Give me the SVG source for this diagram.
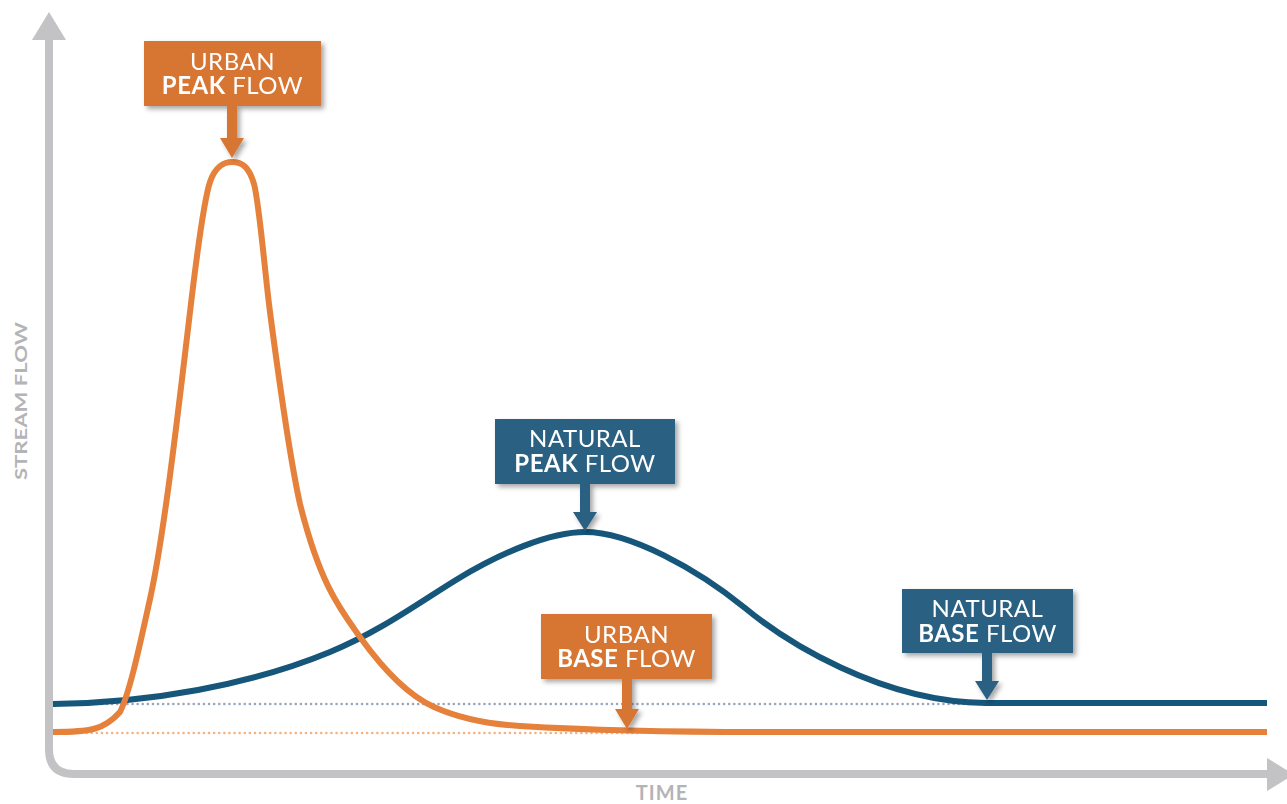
<svg xmlns="http://www.w3.org/2000/svg" width="1287" height="804" viewBox="0 0 1287 804">
  <defs>
    <filter id="sh" x="-20%" y="-20%" width="140%" height="150%">
      <feDropShadow dx="3" dy="3" stdDeviation="2.5" flood-color="#000" flood-opacity="0.35"/>
    </filter>
  </defs>
  <style>
    .axis { fill: none; stroke: #c3c3c5; stroke-width: 8; }
    .axhead { fill: #c3c3c5; }
    .axlabel { font-family: Lato, "Liberation Sans", sans-serif; font-weight: 700; fill: #b4b4b7; }
    .curve { fill: none; stroke-width: 6; stroke-linecap: butt; stroke-linejoin: round; }
    .urban { stroke: #e5813a; }
    .natural { stroke: #16567a; }
    .dot { fill: none; stroke-width: 2.5; stroke-linecap: round; stroke-dasharray: 0.1 5; }
    .box-o { fill: #d77633; }
    .box-b { fill: #2c6182; }
    .lbl { font-family: Lato, "Liberation Sans", sans-serif; font-size: 24px; fill: #ffffff; text-anchor: middle; letter-spacing: 0.5px; }
    .b { font-weight: 700; }
  </style>

  <g id="axes">
    <path class="axis" d="M49,38 V749 Q49,774 74,774 H1269"/>
    <polygon class="axhead" points="32,40 66,40 49,12"/>
    <polygon class="axhead" points="1267,758 1267,791 1294,774.5"/>
    <text class="axlabel" font-size="17" text-anchor="middle" textLength="158" lengthAdjust="spacingAndGlyphs" transform="translate(27,401) rotate(-90)">STREAM FLOW</text>
    <text class="axlabel" font-size="20" x="662" y="800" text-anchor="middle" letter-spacing="1">TIME</text>
  </g>

  <g id="baselines">
    <path class="dot" stroke="#9aa4be" d="M56,704 H1000"/>
    <path class="dot" stroke="#f5b17f" d="M56,733 H640"/>
  </g>

  <g id="connectors">
    <path id="natural-curve" class="curve natural" d="M53,704 C150,703 250,685 330,652 C380,631.5 420,602 456,580 C500,553 550,532 585,532 C630,532 697,569 745,608 C785,641 880,702 986,703 L1267,703"/>
    <path id="urban-curve" class="curve urban" d="M53,732 C90,732 104,730 120,712 C130,692 140,644 150,599 C163.3,539 176.7,425 190,312 C196.7,255.3 203.3,202 210,182 C215,167 224,162 232,162 C242,162 249,166.5 254,184 C259.3,202.7 264.7,271.5 270,312 C280,388 290,459 300,504 C320,584 340,609 360,637 C384.67,671.5 409.33,695.9 434,707 C462.67,719.9 491.33,724.3 520,726 C600,730.8 680,732 760,732 L1267,732"/>
  </g>

  <g id="urban-peak" filter="url(#sh)">
    <rect class="box-o" x="144" y="41" width="177" height="65"/>
    <path class="box-o" d="M227,105 H237 V138 H244 L232,158 L220,138 H227 Z"/>
    <text class="lbl" x="232.5" y="70">URBAN<tspan x="232.5" dy="24"><tspan class="b">PEAK</tspan> FLOW</tspan></text>
  </g>

  <g id="natural-peak" filter="url(#sh)">
    <rect class="box-b" x="495" y="419" width="180" height="65"/>
    <path class="box-b" d="M580,483 H590 V512 H597 L585,531 L573,512 H580 Z"/>
    <text class="lbl" x="585" y="447">NATURAL<tspan x="585" dy="25"><tspan class="b">PEAK</tspan> FLOW</tspan></text>
  </g>

  <g id="urban-base" filter="url(#sh)">
    <rect class="box-o" x="541" y="614" width="171" height="65"/>
    <path class="box-o" d="M622,678 H632 V709 H639 L627,729 L615,709 H622 Z"/>
    <text class="lbl" x="626.5" y="643">URBAN<tspan x="626.5" dy="24"><tspan class="b">BASE</tspan> FLOW</tspan></text>
  </g>

  <g id="natural-base" filter="url(#sh)">
    <rect class="box-b" x="902" y="589" width="171" height="64"/>
    <path class="box-b" d="M982,652 H992 V681 H999 L987,700 L975,681 H982 Z"/>
    <text class="lbl" x="987.5" y="617">NATURAL<tspan x="987.5" dy="25"><tspan class="b">BASE</tspan> FLOW</tspan></text>
  </g>
</svg>
